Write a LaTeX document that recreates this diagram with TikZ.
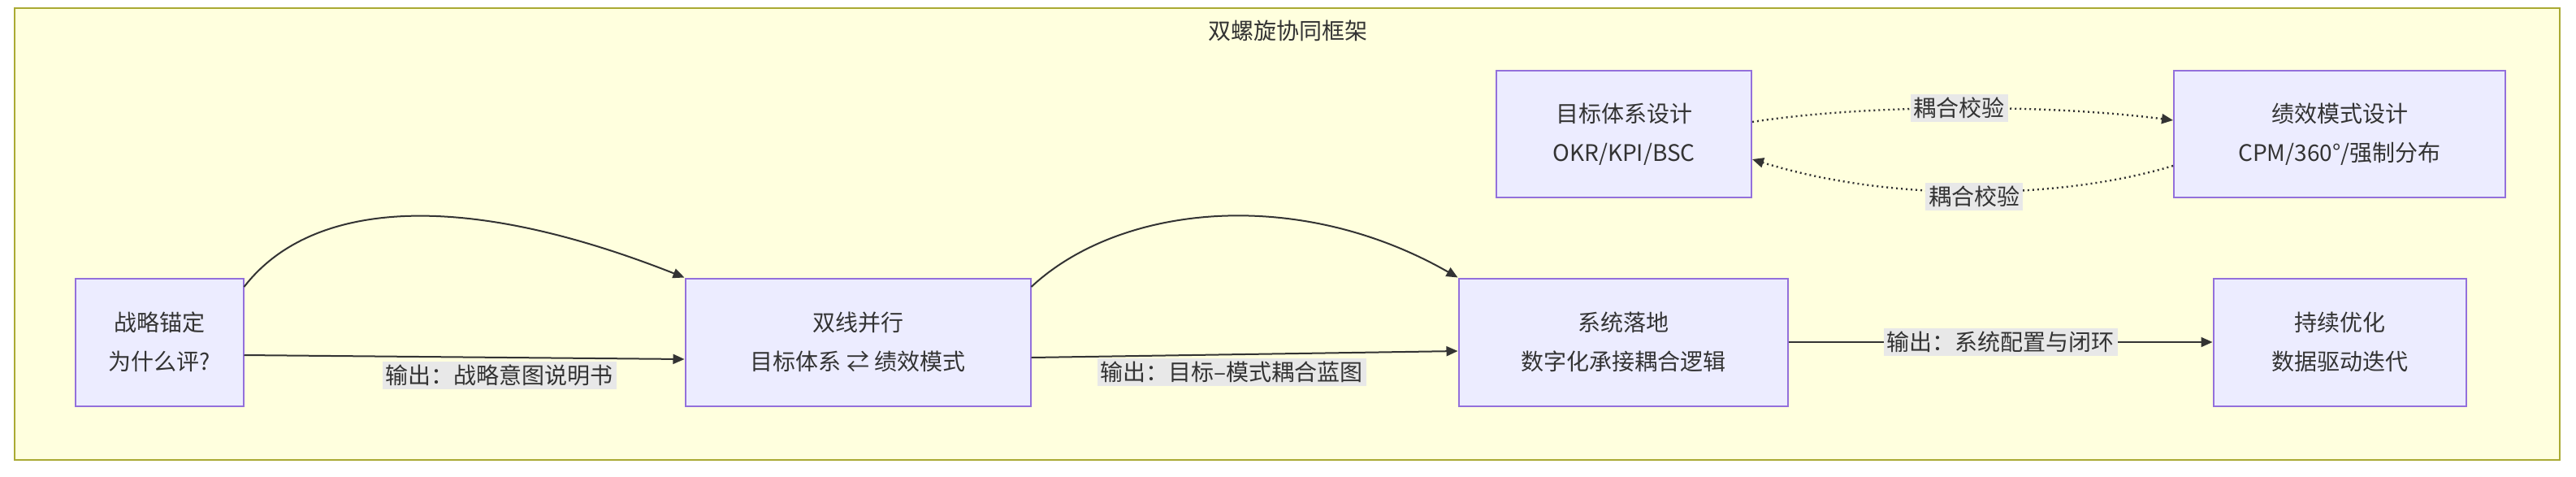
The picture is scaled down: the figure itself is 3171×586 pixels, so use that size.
\documentclass[tikz,border=0pt]{standalone}
\usepackage{fontspec}
\setmainfont{Noto Sans CJK SC}
\usetikzlibrary{arrows.meta}
\definecolor{bgc}{RGB}{255,255,222}
\definecolor{frc}{RGB}{170,170,51}
\definecolor{nf}{RGB}{236,236,255}
\definecolor{nd}{RGB}{147,112,219}
\definecolor{lc}{RGB}{51,51,51}
\definecolor{lbg}{RGB}{232,232,232}
\begin{document}
\begin{tikzpicture}[x=0.5pt,y=-0.5pt,
  box/.style={draw=nd,fill=nf,line width=1pt,align=center,font=\fontsize{14}{24}\selectfont,text=lc,inner sep=0pt},
  lab/.style={fill=lbg,font=\fontsize{14}{16}\selectfont,text=lc,inner sep=2pt},
  con/.style={draw=lc,line width=1pt,-{Triangle[length=7pt,width=6pt]}},
  dot/.style={con,dotted,line width=1.2pt}]
\useasboundingbox (0,0) rectangle (3171,586);
\fill[white] (0,0) rectangle (3171,586);
\draw[frc,fill=bgc,line width=1pt] (18,10) rectangle (3151,566);
\node[font=\fontsize{14}{16}\selectfont,text=lc] (title) at (1585,38) {双螺旋协同框架};
\node[box,minimum width=103.5pt,minimum height=78.5pt] (A) at (196,421) {战略锚定\\为什么评?};
\node[box,minimum width=212.5pt,minimum height=78.5pt] (B) at (1056,421) {双线并行\\目标体系 ⇄ 绩效模式};
\node[box,minimum width=202.5pt,minimum height=78.5pt] (C) at (1998,421) {系统落地\\数字化承接耦合逻辑};
\node[box,minimum width=155.5pt,minimum height=78.5pt] (D) at (2880,421) {持续优化\\数据驱动迭代};
\node[box,minimum width=157pt,minimum height=78pt] (E) at (1999,165) {目标体系设计\\OKR/KPI/BSC};
\node[box,minimum width=204pt,minimum height=78pt] (F) at (2880,165) {绩效模式设计\\CPM/360°/强制分布};
% top curves
\draw[con] (A.east|-0,353) .. controls (380,250) and (560,230) .. (B.north west);
\draw[con] (B.east|-0,353) .. controls (1380,250) and (1600,230) .. (C.north west);
% straight with labels
\draw[con] (A.east|-0,437) -- node[lab,pos=0.58,yshift=-11pt]{输出：战略意图说明书} (B.west|-0,442);
\draw[con] (B.east|-0,440) -- node[lab,pos=0.47,yshift=-11pt]{输出：目标–模式耦合蓝图} (C.west|-0,432);
\draw[con] (C) -- node[lab]{输出：系统配置与闭环} (D);
% dotted
\draw[dot] (E.east|-0,150) .. controls (2300,128) and (2520,128) .. node[lab,pos=0.5]{耦合校验} (F.west|-0,148);
\draw[dot] (F.west|-0,204) .. controls (2540,245) and (2330,250) .. node[lab,pos=0.5,yshift=-3pt]{耦合校验} (E.east|-0,196);
\end{tikzpicture}
\end{document}
